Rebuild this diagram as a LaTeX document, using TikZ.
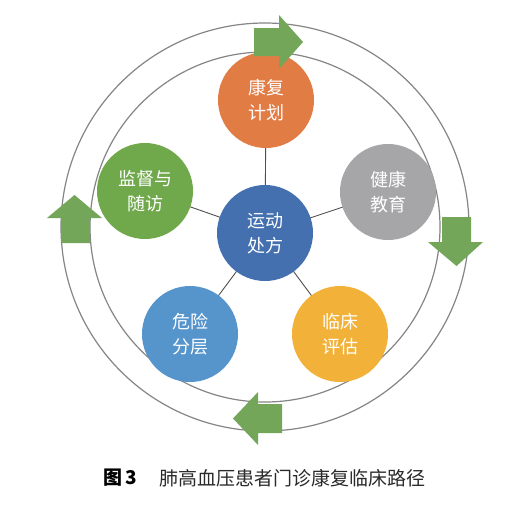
\documentclass[tikz,border=0pt]{standalone}
\usepackage{fontspec}
\newfontfamily\cjk{Noto Sans CJK SC}
\definecolor{ringgray}{HTML}{858585}
\definecolor{linkgray}{HTML}{505050}
\definecolor{cOrange}{HTML}{E27C45}
\definecolor{cGray}{HTML}{A6A6A8}
\definecolor{cYellow}{HTML}{F2B23A}
\definecolor{cBlue}{HTML}{5694CC}
\definecolor{cGreen}{HTML}{70A84C}
\definecolor{cDark}{HTML}{4470B0}
\definecolor{arrowgreen}{HTML}{74A65A}
\definecolor{captext}{HTML}{2A2A2A}
\begin{document}
\begin{tikzpicture}[x=1pt,y=-1pt,
  ring/.style={draw=ringgray,line width=1.2pt},
  link/.style={draw=linkgray,line width=0.9pt},
  bubble/.style={circle,minimum size=96pt,inner sep=0pt,text=white,align=center,
    font=\cjk\fontsize{18}{25}\selectfont},
  garrow/.style={fill=arrowgreen,draw=none}]
\useasboundingbox (0,0) rectangle (521,517);
\fill[white] (0,0) rectangle (521,517);
% rings
\draw[ring] (265,227) circle[radius=204pt];
\draw[ring] (265,227) circle[radius=175pt];
% nodes (positions)
\path (265,233) coordinate (pc);
\path (266,100) coordinate (pt);
\path (388,192) coordinate (pr);
\path (340,334) coordinate (pbr);
\path (190,334) coordinate (pbl);
\path (145,191) coordinate (pl);
% links
\draw[link] (pc) -- (pt);
\draw[link] (pc) -- (pr);
\draw[link] (pc) -- (pbr);
\draw[link] (pc) -- (pbl);
\draw[link] (pc) -- (pl);
% bubbles
\node[bubble,fill=cOrange] (plan) at (pt) {康复\\计划};
\node[bubble,fill=cGray] (edu) at (pr) {健康\\教育};
\node[bubble,fill=cYellow] (eval) at (pbr) {临床\\评估};
\node[bubble,fill=cBlue] (risk) at (pbl) {危险\\分层};
\node[bubble,fill=cGreen] (follow) at (pl) {监督与\\随访};
\node[bubble,fill=cDark] (rx) at (pc) {运动\\处方};
% cycle arrows
\fill[garrow] (254,28) -- (279,28) -- (279,15) -- (303,42) -- (279,69) -- (279,56) -- (254,56) -- cycle;
\fill[garrow] (442,217) -- (471,217) -- (471,242) -- (483,242) -- (456.5,266) -- (428,242) -- (442,242) -- cycle;
\fill[garrow] (61,243) -- (90,243) -- (90,218) -- (102,218) -- (74.5,195) -- (47,218) -- (61,218) -- cycle;
\fill[garrow] (282,404) -- (258,404) -- (258,392) -- (233,418.5) -- (258,445) -- (258,433) -- (282,433) -- cycle;
% caption
\node[anchor=west,inner sep=0pt,font=\cjk\bfseries\fontsize{19}{22}\selectfont] (figno) at (103,478) {图\,3};
\node[anchor=west,inner sep=0pt,text=captext,font=\cjk\fontsize{19}{22}\selectfont] (cap) at (159,478) {肺高血压患者门诊康复临床路径};
\end{tikzpicture}
\end{document}
